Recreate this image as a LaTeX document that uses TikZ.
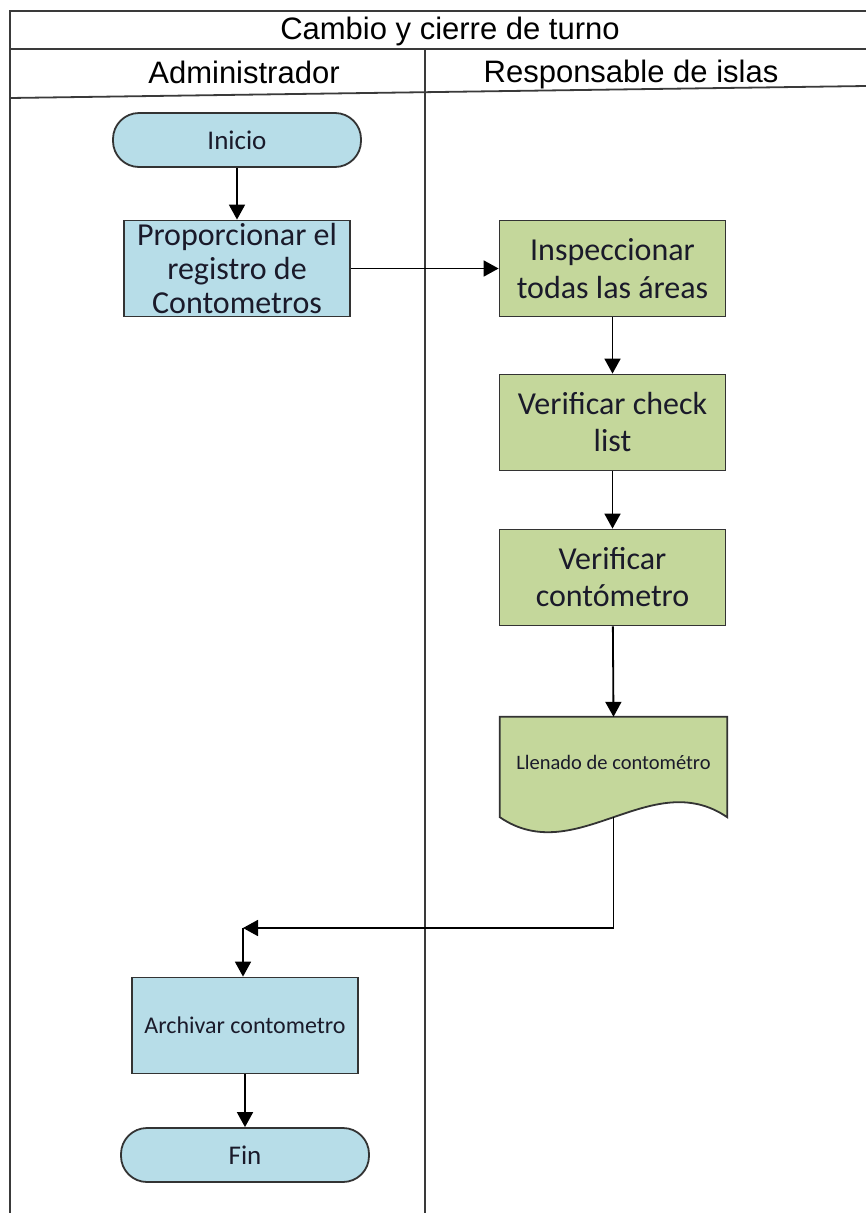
\documentclass[tikz,border=0pt]{standalone}
\usepackage{fontspec}
\setmainfont{Carlito}
\newfontfamily\headfont{Liberation Sans}
\usetikzlibrary{arrows.meta}
\definecolor{fillblue}{HTML}{B7DDE8}
\definecolor{fillgreen}{HTML}{C4D79B}
\definecolor{edgegray}{HTML}{333333}
\definecolor{lanegray}{HTML}{3A3A3A}
\definecolor{inkdark}{HTML}{1A1A2A}

\begin{document}
\begin{tikzpicture}[x=1pt,y=-1pt,
  lane/.style={draw=lanegray, line width=1.8pt},
  proc/.style={draw=edgegray, line width=1.8pt, inner sep=0pt, align=center,
    minimum width=226pt, minimum height=96pt, text=inkdark},
  blueproc/.style={proc, fill=fillblue},
  greenproc/.style={proc, fill=fillgreen},
  terminal/.style={draw=edgegray, line width=1.8pt, fill=fillblue, rounded corners=26pt,
    minimum width=248pt, minimum height=54pt, inner sep=0pt, text=inkdark,
    font=\fontsize{27}{30}\selectfont},
  flow/.style={draw=black, line width=1.8pt, -{Triangle[length=15pt,width=16pt]}},
  headtext/.style={font=\headfont\fontsize{31}{34}\selectfont, inner sep=0pt}
]
\useasboundingbox (0,0) rectangle (866,1213);

% swimlane frame
\draw[lane] (10,1213) -- (10,11) -- (866,11);
\draw[lane] (10,49) -- (866,49);
\draw[lane] (10,98) -- (866,86);
\draw[lane] (425,49) -- (425,1213);

\node[headtext] (title) at (450,31) {Cambio y cierre de turno};
\node[headtext] (laneA) at (244,72) {Administrador};
\node[headtext] (laneB) at (631,74) {Responsable de islas};

% process steps
\node[terminal] (inicio) at (237,140) {Inicio};
\node[blueproc, font=\fontsize{32}{34}\selectfont] (prop) at (237,268.5)
  {Proporcionar el\\registro de\\Contometros};
\node[greenproc, font=\fontsize{32}{38}\selectfont] (insp) at (612.5,268.5)
  {Inspeccionar\\todas las áreas};
\node[greenproc, font=\fontsize{32}{37}\selectfont] (check) at (612.5,422.5)
  {Verificar check\\list};
\node[greenproc, font=\fontsize{32}{37}\selectfont] (cont) at (612.5,577.5)
  {Verificar\\contómetro};

% document shape with wavy bottom
\node[inner sep=0pt, minimum width=227pt, minimum height=100pt] (doc) at (613.5,767) {};
\draw[draw=edgegray, line width=1.8pt, fill=fillgreen]
  (doc.south east) -- (doc.north east) -- (doc.north west) -- (doc.south west)
  .. controls ([xshift=76pt,yshift=-52pt]doc.south west) and ([xshift=-76pt,yshift=52pt]doc.south east) .. (doc.south east) -- cycle;
\node[inner sep=0pt, text=inkdark, font=\fontsize{20.5}{22}\selectfont] (doclabel) at (613.5,762) {Llenado de contométro};

\node[blueproc, font=\fontsize{24}{26}\selectfont] (arch) at (245,1025.5) {Archivar contometro};
\node[terminal] (fin) at (245,1155) {Fin};

% connectors
\coordinate (turn) at (243,928);
\draw[flow] (inicio) -- (prop);
\draw[flow] (prop) -- (insp);
\draw[flow] (insp) -- (check);
\draw[flow] (check) -- (cont);
\draw[flow] (cont) -- (doc.north);
\draw[flow] (doc.south) |- (turn);
\draw[flow] (turn) -- (turn |- arch.north);
\draw[flow] (arch) -- (fin);
\end{tikzpicture}
\end{document}
